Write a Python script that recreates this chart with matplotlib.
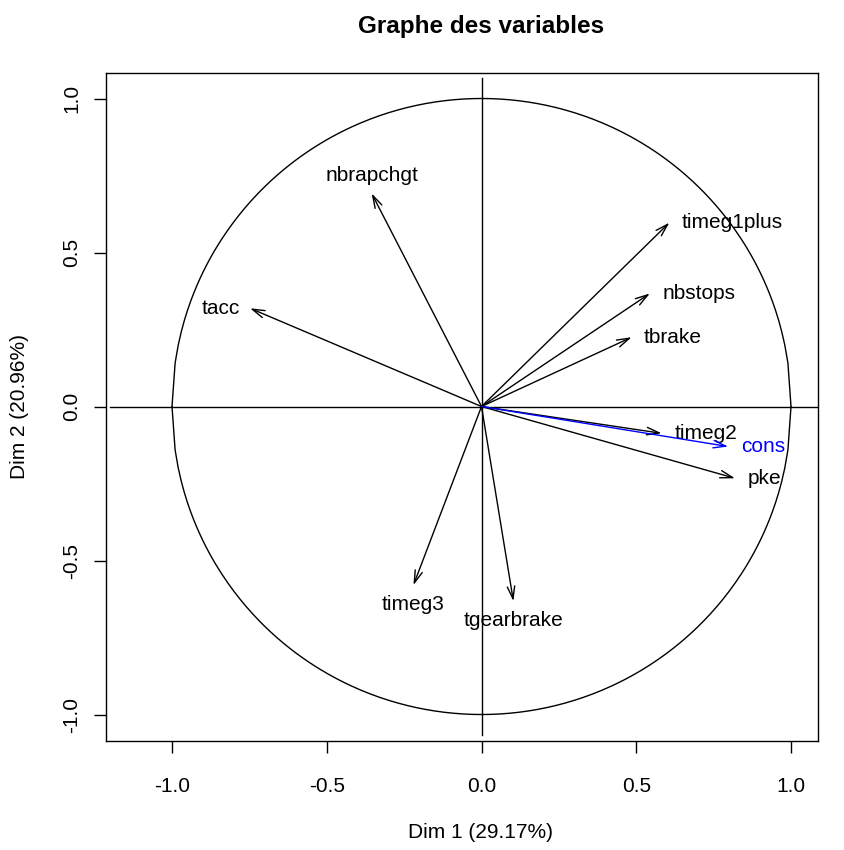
import matplotlib
matplotlib.use("Agg")
import matplotlib.pyplot as plt
import numpy as np

plt.rcParams['font.family'] = ['Liberation Sans', 'DejaVu Sans']

# coordonnées des variables sur les axes 1 et 2
variables = ['nbrapchgt', 'tacc', 'timeg1plus', 'nbstops', 'tbrake',
             'timeg2', 'pke', 'timeg3', 'tgearbrake', 'cons']
dim1 = [-0.355, -0.748, 0.607, 0.544, 0.485, 0.582, 0.819, -0.220, 0.103, 0.797]
dim2 = [0.692, 0.319, 0.597, 0.367, 0.225, -0.087, -0.233, -0.580, -0.632, -0.130]
# position du label (comme pos= dans R : 1 bas, 2 gauche, 3 haut, 4 droite)
label_pos = [3, 2, 4, 4, 4, 4, 4, 1, 1, 4]
colors = ['black'] * 9 + ['blue']

pct1 = 29.17
pct2 = 20.96

W, H = 844, 850
fig = plt.figure(figsize=(W / 100, H / 100), dpi=100)
ax = fig.add_axes([106 / W, 1 - 741 / H, (818 - 106) / W, (741 - 73) / H])
ax.set_xlim(-1.2133, 1.0872)
ax.set_ylim(-1.086, 1.0828)

# cercle des corrélations
xc = np.arange(-1, 1.0001, 0.01)
yc = np.sqrt(np.clip(1 - xc ** 2, 0, None))
ax.plot(xc, yc, color='black', lw=1.0)
ax.plot(xc, -yc, color='black', lw=1.0)
ax.plot([-1.2, 1.2], [0, 0], color='black', lw=1.0)
ax.plot([0, 0], [-1.065, 1.065], color='black', lw=1.0)

offsets = {1: (0, -14), 2: (-7, 0), 3: (0, 13), 4: (9, 0)}
aligns = {1: ('center', 'center'), 2: ('right', 'center'),
          3: ('center', 'center'), 4: ('left', 'center')}

for name, x, y, p, col in zip(variables, dim1, dim2, label_pos, colors):
    ax.annotate('', xy=(x, y), xytext=(0, 0),
                arrowprops=dict(arrowstyle='->,head_length=0.6,head_width=0.18',
                                color=col, lw=1.0, shrinkA=0, shrinkB=0,
                                mutation_scale=15))
    ha, va = aligns[p]
    ax.annotate(name, xy=(x, y), xytext=offsets[p], textcoords='offset points',
                ha=ha, va=va, fontsize=15, color=col)

ax.set_xticks([-1.0, -0.5, 0.0, 0.5, 1.0])
ax.set_yticks([-1.0, -0.5, 0.0, 0.5, 1.0])
ax.set_xticklabels(['-1.0', '-0.5', '0.0', '0.5', '1.0'])
ax.set_yticklabels(['-1.0', '-0.5', '0.0', '0.5', '1.0'], rotation=90, va='center')
ax.tick_params(direction='out', length=8.6, width=1.0, labelsize=15)
ax.tick_params(axis='x', pad=17)
ax.tick_params(axis='y', pad=9)
for s in ax.spines.values():
    s.set_linewidth(1.0)

fig.text(481 / W, 1 - 26 / H, 'Graphe des variables', ha='center', va='center',
         fontsize=17.5, fontweight='bold')
fig.text(481 / W, 1 - 833 / H, f'Dim 1 ({pct1:.2f}%)', ha='center', va='center',
         fontsize=15)
fig.text(20 / W, 1 - 407 / H, f'Dim 2 ({pct2:.2f}%)', ha='center', va='center',
         fontsize=15, rotation=90)

fig.savefig('out.png', dpi=100)
